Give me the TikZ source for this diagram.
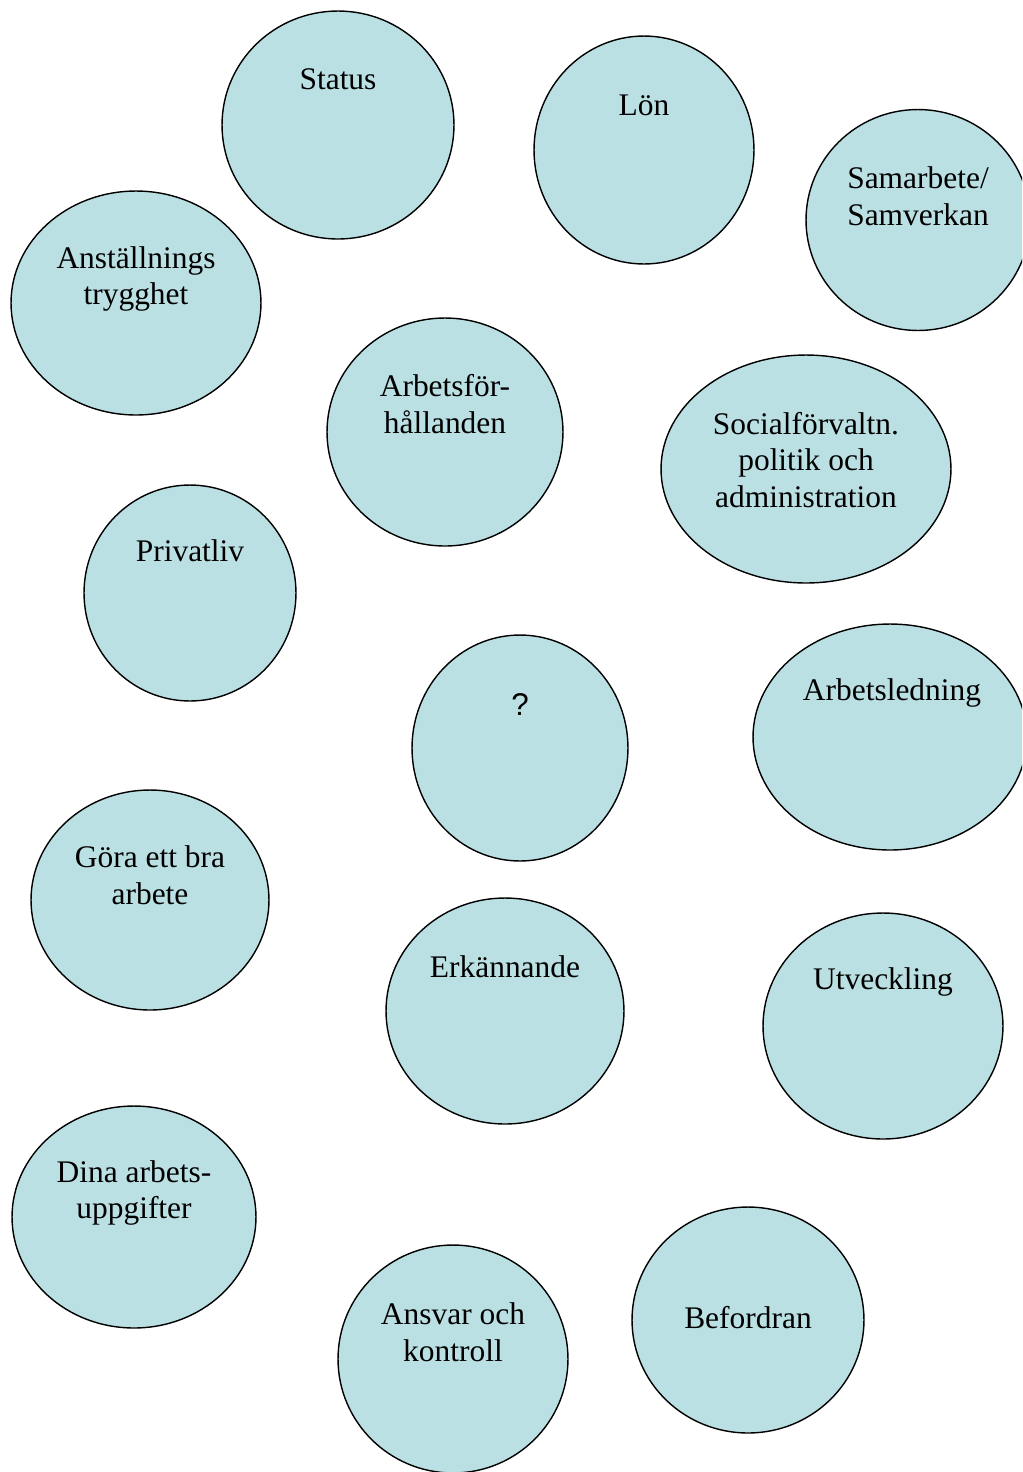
\documentclass[tikz,border=0pt]{standalone}
\usepackage{fontspec}
\setmainfont{Liberation Serif}
\setsansfont{Liberation Sans}
\usepackage{xcolor}
\usetikzlibrary{shapes.geometric}
\definecolor{bubblefill}{RGB}{187, 224, 227}
\newcommand{\bubfont}{\fontsize{17.9}{21}\selectfont}
\tikzset{
  bubble/.style={ellipse,draw=black,line width=0.8pt,fill=bubblefill,inner sep=0pt},
  txt/.style={align=center,inner sep=0pt,font=\bubfont}
}

\begin{document}
\begin{tikzpicture}[x=0.02cm,y=-0.02cm]
  \clip (0,0) rectangle (1022,1472);
  \fill[white] (0,0) rectangle (1022,1472);
  % top row
  \node[bubble,minimum width=4.64cm,minimum height=4.56cm] (status) at (338,125) {};
  \node[txt] (status-t) at (338,79) {Status};
  \node[bubble,minimum width=4.40cm,minimum height=4.56cm] (lon) at (644,150) {};
  \node[txt] (lon-t) at (644,105) {Lön};
  \node[bubble,minimum width=4.48cm,minimum height=4.42cm] (samarbete) at (918,220) {};
  \node[txt] (samarbete-t) at (918,196) {Samarbete/\\Samverkan};
  % second row
  \node[bubble,minimum width=5.00cm,minimum height=4.48cm] (trygghet) at (136,303) {};
  \node[txt] (trygghet-t) at (136,279) {Anställnings\\trygghet};
  \node[bubble,minimum width=4.72cm,minimum height=4.56cm] (forhall) at (445,432) {};
  \node[txt] (forhall-t) at (445,404) {Arbetsför-\\hållanden};
  \node[bubble,minimum width=5.80cm,minimum height=4.56cm] (social) at (806,469) {};
  \node[txt] (social-t) at (806,460) {Socialförvaltn.\\politik och\\administration};
  % middle
  \node[bubble,minimum width=4.24cm,minimum height=4.32cm] (privat) at (190,593) {};
  \node[txt] (privat-t) at (190,551) {Privatliv};
  \node[bubble,minimum width=4.32cm,minimum height=4.52cm] (fraga) at (520,748) {};
  \node[txt,font=\sffamily\bubfont] (fraga-t) at (520,705) {?};
  \node[bubble,minimum width=5.48cm,minimum height=4.52cm] (ledning) at (890,737) {};
  \node[txt] (ledning-t) at (892,693) {Arbetsledning};
  \node[bubble,minimum width=4.76cm,minimum height=4.40cm] (gora) at (150,900) {};
  \node[txt] (gora-t) at (150,875) {Göra ett bra\\arbete};
  \node[bubble,minimum width=4.76cm,minimum height=4.52cm] (erkann) at (505,1011) {};
  \node[txt] (erkann-t) at (505,967) {Erkännande};
  \node[bubble,minimum width=4.80cm,minimum height=4.52cm] (utveckl) at (883,1026) {};
  \node[txt] (utveckl-t) at (883,982) {Utveckling};
  % bottom
  \node[bubble,minimum width=4.88cm,minimum height=4.44cm] (uppgift) at (134,1217) {};
  \node[txt] (uppgift-t) at (134,1193) {Dina arbets-\\uppgifter};
  \node[bubble,minimum width=4.60cm,minimum height=4.56cm] (ansvar) at (453,1359) {};
  \node[txt] (ansvar-t) at (453,1332) {Ansvar och\\kontroll};
  \node[bubble,minimum width=4.64cm,minimum height=4.52cm] (befordr) at (748,1320) {};
  \node[txt] (befordr-t) at (748,1318) {Befordran};
\end{tikzpicture}
\end{document}
